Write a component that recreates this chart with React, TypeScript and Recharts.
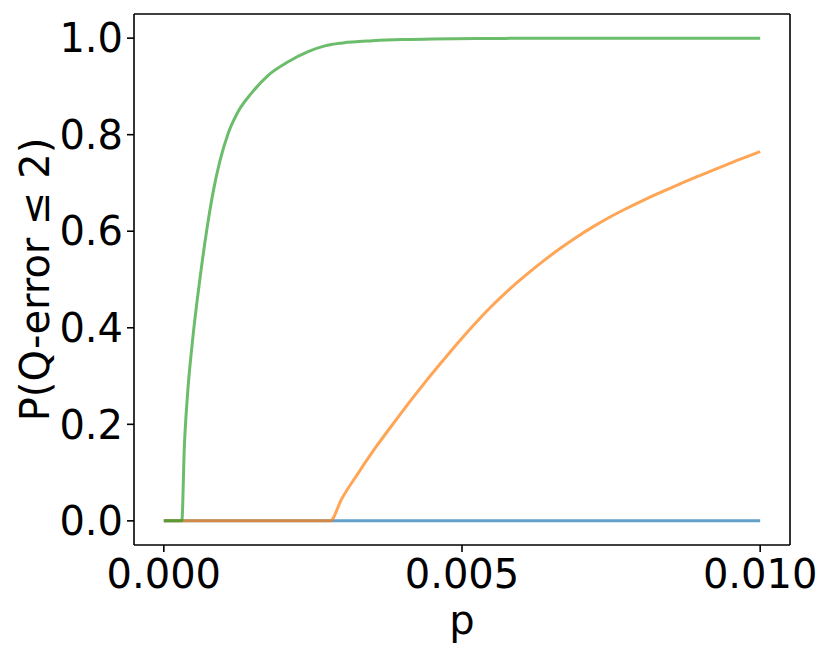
import React from 'react';
import { LineChart, Line, XAxis, YAxis, Label, ReferenceLine } from 'recharts';

// p values and P(Q-error <= 2)
const pBlue = [0, 0.01];
const blueVals = [0, 0];

const pOrange = [0, 0.00279, 0.00298, 0.00326, 0.00354, 0.00382, 0.0041, 0.00438, 0.00466, 0.00494, 0.00522, 0.0055, 0.00578, 0.00606, 0.00634, 0.00662, 0.0069, 0.00718, 0.00746, 0.00774, 0.00802, 0.0083, 0.00858, 0.00886, 0.00914, 0.00942, 0.0097, 0.01];
const orangeVals = [0, 0, 0.045, 0.099, 0.15, 0.197, 0.243, 0.287, 0.329, 0.37, 0.409, 0.445, 0.478, 0.508, 0.536, 0.562, 0.586, 0.608, 0.628, 0.646, 0.663, 0.679, 0.694, 0.709, 0.723, 0.737, 0.751, 0.765];

const pGreen = [0, 0.000302, 0.000344, 0.000394, 0.00047, 0.000604, 0.000727, 0.000828, 0.00094, 0.00108, 0.001247, 0.00147, 0.00175, 0.002086, 0.00242, 0.0027, 0.003, 0.0035, 0.004, 0.0045, 0.0055, 0.007, 0.01];
const greenVals = [0, 0, 0.153, 0.256, 0.36, 0.5, 0.608, 0.682, 0.745, 0.803, 0.848, 0.886, 0.923, 0.951, 0.972, 0.984, 0.99, 0.9945, 0.997, 0.998, 0.9993, 1.0, 1.0];

const xTicks = [0, 0.005, 0.01];
const yTicks = [0, 0.2, 0.4, 0.6, 0.8, 1.0];

const toRows = (ps: number[], vs: number[]) => ps.map((p, i) => ({ p, v: vs[i] }));

const FONT = '"DejaVu Sans", sans-serif';
const tickStyle = { fontFamily: FONT, fontSize: 40, fill: '#000' };
const axisStroke = { stroke: '#000', strokeWidth: 1.6 };

const App = () => {
  return (
    <LineChart width={814} height={640} margin={{ top: 6, right: 32, left: 0, bottom: 0 }}>
      <XAxis
        xAxisId="b"
        type="number"
        dataKey="p"
        domain={[-0.0005, 0.0105]}
        ticks={xTicks}
        tickFormatter={(v: number) => v.toFixed(3)}
        allowDataOverflow
        height={103}
        tickSize={7}
        tickMargin={8}
        axisLine={axisStroke}
        tickLine={axisStroke}
        tick={tickStyle}
      >
        <Label value="p" position="insideBottom" offset={14} style={{ fontFamily: FONT, fontSize: 40, fill: '#000' }} />
      </XAxis>
      <YAxis
        yAxisId="l"
        type="number"
        domain={[-0.05, 1.05]}
        ticks={yTicks}
        tickFormatter={(v: number) => v.toFixed(1)}
        allowDataOverflow
        width={126}
        tickSize={7}
        tickMargin={4}
        axisLine={axisStroke}
        tickLine={axisStroke}
        tick={tickStyle}
      >
        <Label
          value="P(Q-error  ≤ 2)"
          angle={-90}
          position="center"
          dx={-36}
          style={{ fontFamily: FONT, fontSize: 40, fill: '#000', whiteSpace: 'pre' }}
        />
      </YAxis>
      {/* top and right spines */}
      <ReferenceLine xAxisId="b" yAxisId="l" y={1.05} stroke="#000" strokeWidth={1.6} ifOverflow="visible" />
      <ReferenceLine xAxisId="b" yAxisId="l" x={0.0105} stroke="#000" strokeWidth={1.6} ifOverflow="visible" />
      <Line xAxisId="b" yAxisId="l" data={toRows(pBlue, blueVals)} dataKey="v" type="linear" stroke="#1f77b4" strokeOpacity={0.7} strokeWidth={3} dot={false} isAnimationActive={false} />
      <Line xAxisId="b" yAxisId="l" data={toRows(pOrange, orangeVals)} dataKey="v" type="monotone" stroke="#ff7f0e" strokeOpacity={0.7} strokeWidth={3} dot={false} isAnimationActive={false} />
      <Line xAxisId="b" yAxisId="l" data={toRows(pGreen, greenVals)} dataKey="v" type="monotone" stroke="#2ca02c" strokeOpacity={0.7} strokeWidth={3} dot={false} isAnimationActive={false} />
    </LineChart>
  );
};

export default App;
